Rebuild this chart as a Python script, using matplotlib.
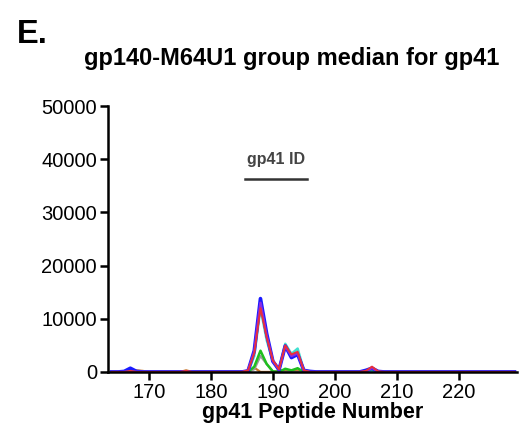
import matplotlib
matplotlib.use("Agg")
import matplotlib.pyplot as plt

plt.rcParams['font.family'] = ['Liberation Sans', 'DejaVu Sans']

# Peptide positions along gp41
peptides = list(range(164, 230))

# Group-median responses per animal (non-listed peptides are at 0)
series_blue = {166: 100, 167: 700, 168: 100, 186: 200, 187: 4000, 188: 13800, 189: 7200,
               190: 2000, 191: 400, 192: 4900, 193: 2700, 194: 3300, 195: 300, 196: 100,
               205: 300, 206: 700, 207: 100}
series_red = {167: 200, 176: 200, 186: 300, 187: 3500, 188: 12000, 189: 6500, 190: 2200,
              191: 500, 192: 5000, 193: 3300, 194: 3800, 195: 300, 205: 200, 206: 1000, 207: 100}
series_purple = {186: 250, 187: 3800, 188: 13000, 189: 6800, 190: 2100, 191: 450, 192: 4900,
                 193: 3000, 194: 3500, 195: 300, 206: 800}
series_orange = {168: 300, 169: 200, 176: 300, 187: 800, 191: 300, 192: 300, 193: 300,
                 194: 300, 220: 100}
series_green = {187: 1000, 188: 4000, 189: 1500, 190: 100, 192: 600, 193: 300, 194: 700,
                206: 200}
series_gray = {187: 500, 188: 3000, 189: 1500, 190: 100}
series_cyan = {187: 3000, 188: 12000, 189: 6000, 190: 2000, 191: 400, 192: 5300,
               193: 3400, 194: 4400, 195: 300}

line_styles = [
    (series_orange, '#c8782a', 1.6),
    (series_gray, '#9a9a9a', 1.6),
    (series_green, '#1fbf1f', 1.8),
    (series_cyan, '#40e0d0', 1.8),
    (series_blue, '#1a1aff', 2.6),
    (series_purple, '#8a2be2', 1.8),
    (series_red, '#e8303a', 1.4),
]

fig = plt.figure(figsize=(5.27, 4.33), dpi=100)
ax = fig.add_axes([0.205, 0.141, 0.776, 0.614])

for values, color, lw in line_styles:
    y = [values.get(p, 0) for p in peptides]
    ax.plot(peptides, y, color=color, lw=lw, solid_joinstyle='round')

# Region bar for the gp41 immunodominant segment
id_start, id_end, id_level = 185.5, 195.5, 36300
ax.plot([id_start, id_end], [id_level, id_level], color='#333333', lw=1.8)
ax.text((id_start + id_end) / 2, id_level + 2300, 'gp41 ID', ha='center', va='bottom',
        fontsize=11.5, fontweight='bold', color='#444444')

ax.set_xlim(163.4, 229.4)
ax.set_ylim(0, 50000)
ax.set_xticks([170, 180, 190, 200, 210, 220])
ax.set_yticks([0, 10000, 20000, 30000, 40000, 50000])
for s in ['top', 'right']:
    ax.spines[s].set_visible(False)
for s in ['left', 'bottom']:
    ax.spines[s].set_linewidth(1.8)
ax.tick_params(axis='both', width=1.8, length=6, labelsize=14.5, pad=2)
ax.set_xlabel('gp41 Peptide Number', fontsize=15.5, fontweight='bold', labelpad=0)

fig.text(0.554, 0.850, 'gp140-M64U1 group median for gp41', ha='center', va='baseline',
         fontsize=17, fontweight='bold')
fig.text(0.032, 0.901, 'E.', ha='left', va='baseline', fontsize=23.5, fontweight='bold')

fig.savefig('out.png', dpi=100)
